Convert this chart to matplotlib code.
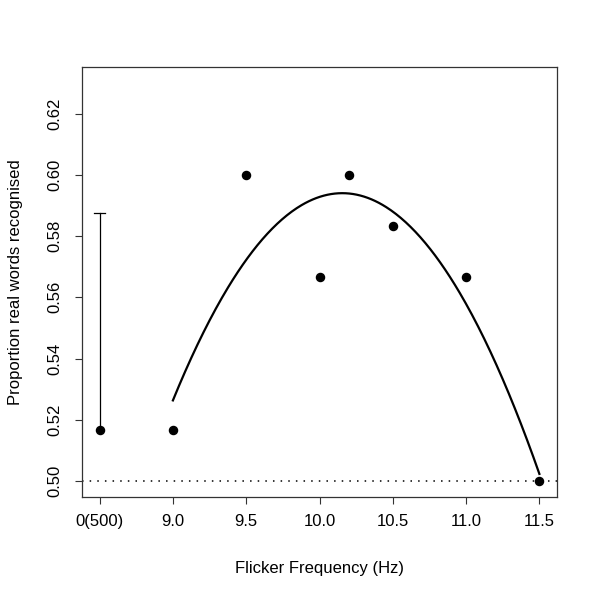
import matplotlib
matplotlib.use('Agg')
import matplotlib.pyplot as plt
import numpy as np

# datos
freq = [9.0, 9.5, 10.0, 10.2, 10.5, 11.0, 11.5]
prop = [0.5167, 0.6000, 0.5667, 0.6000, 0.5833, 0.5667, 0.5000]
base_x = 8.5           # posición de "0(500)"
base_y = 0.5167
base_hi = 0.5875
xticks = [8.5, 9.0, 9.5, 10.0, 10.5, 11.0, 11.5]
xlabels = ['0(500)', '9.0', '9.5', '10.0', '10.5', '11.0', '11.5']
yticks = [0.50, 0.52, 0.54, 0.56, 0.58, 0.60, 0.62]

plt.rcParams['font.family'] = ['Liberation Sans', 'DejaVu Sans']

fig = plt.figure(figsize=(6, 6), dpi=100, facecolor='white')
ax = fig.add_axes([0.1367, 0.1717, 0.7916, 0.7166])

# ajuste cuadrático
coef = np.polyfit(freq, prop, 2)
xs = np.linspace(min(freq), max(freq), 300)
ax.plot(xs, np.polyval(coef, xs), color='black', lw=1.6, zorder=2)

ax.scatter(freq, prop, s=34, color='black', zorder=3)
ax.scatter([base_x], [base_y], s=34, color='black', zorder=3)
ax.plot([base_x, base_x], [base_y, base_hi], color='black', lw=0.9)
ax.plot([base_x - 0.04, base_x + 0.04], [base_hi, base_hi], color='black', lw=0.9)

ax.axhline(0.5, color='black', lw=1.1, linestyle=(0, (1, 4)))

ax.set_xlim(8.38, 11.62)
ax.set_ylim(0.4948, 0.6352)
ax.set_xticks(xticks)
ax.set_xticklabels(xlabels)
ax.set_yticks(yticks)
ax.set_yticklabels(['%.2f' % v for v in yticks], rotation=90, va='center')
ax.tick_params(length=5, width=0.8, labelsize=12, color='#333333')
ax.tick_params(axis='x', pad=7)
ax.tick_params(axis='y', pad=9)
for s in ax.spines.values():
    s.set_linewidth(0.9)
    s.set_color('#333333')

ax.set_xlabel('Flicker Frequency (Hz)', fontsize=12, labelpad=23)
ax.set_ylabel('Proportion real words recognised', fontsize=12, labelpad=18)

plt.savefig('out.png', dpi=100)
